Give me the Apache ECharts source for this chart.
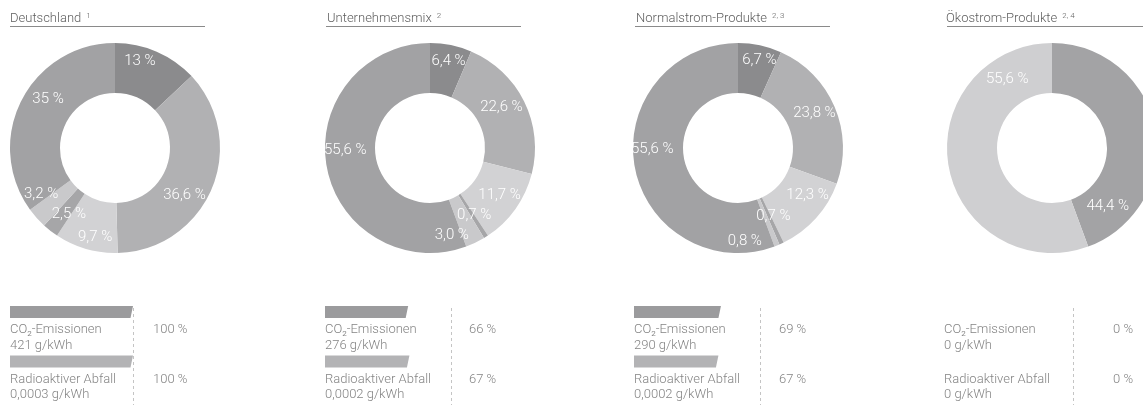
<!DOCTYPE html>
<html>
<head>
<meta charset="utf-8">
<script src="https://cdn.jsdelivr.net/npm/echarts@6/dist/echarts.min.js"></script>
<style>
html, body { margin: 0; padding: 0; background: #fff; }
#chart { width: 1143px; height: 405px; }
</style>
</head>
<body>
<div id="chart"></div>
<script>
// Stromkennzeichnung – Energieträgermix und Umweltauswirkungen
const panelTitles = ['Deutschland', 'Unternehmensmix', 'Normalstrom-Produkte', 'Ökostrom-Produkte']
const panelNotes = ['1', '2', '2, 3', '2, 4']

const mixCategories = ['Kernkraft', 'Kohle', 'Erdgas', 'Sonstige fossile Energieträger', 'Sonstige erneuerbare Energien', 'Erneuerbare Energien (EEG)']
const oekoCategories = ['Erneuerbare Energien (EEG)', 'Sonstige erneuerbare Energien']

const deutschlandMix = [13, 36.6, 9.7, 2.5, 3.2, 35]
const unternehmensMix = [6.4, 22.6, 11.7, 0.7, 3.0, 55.6]
const normalstromMix = [6.7, 23.8, 12.3, 0.7, 0.8, 55.6]
const oekostromMix = [44.4, 55.6]

const impactLabels = ['CO2-Emissionen', 'Radioaktiver Abfall']
const co2Amounts = ['421', '276', '290', '0']
const wasteAmounts = ['0,0003', '0,0002', '0,0002', '0']
const co2Percent = [100, 66, 69, 0]
const wastePercent = [100, 67, 67, 0]

// Farben / Layout
const mixColors = ['#8b8b8d', '#b1b1b3', '#d2d2d4', '#a6a6a8', '#c9c9cb', '#a2a2a4']
const oekoColors = ['#a3a3a5', '#cfcfd1']
const barColors = ['#9b9b9d', '#b3b3b5']
const font = 'Roboto, "Noto Sans", sans-serif'

const pieCenters = [[115, 148], [430, 148], [738, 148], [1052, 148]]
const titleLefts = [10, 327, 636, 946]
const underlines = [[10, 205], [326, 521], [635, 830], [947, 1143]]
const gridLefts = [10, 325, 634, 944]
const gridWidths = [123, 126, 126, 129]
const valueGaps = [20, 18, 19, 40]
// kleine Verschiebungen der Beschriftungen wie in der Vorlage
const labelOffsets = [
  [[-8, -11], [-7, 15], [3, 9], [5, 1], [-12, -9], [7, -11]],
  [[2, -5], [-3, -4], [2, -1], [0, -3], [-14, 12], [-3, -12]],
  [[4, -7], [0, -2], [8, -8], [1, -7], [-24, 16], [-4, -13]],
  [[-26, 73], [37, -83]]
]

const panels = [
  { values: deutschlandMix, names: mixCategories, colors: mixColors, fixed: false },
  { values: unternehmensMix, names: mixCategories, colors: mixColors, fixed: true },
  { values: normalstromMix, names: mixCategories, colors: mixColors, fixed: true },
  { values: oekostromMix, names: oekoCategories, colors: oekoColors, fixed: true }
]

function fmt(v, fixed) {
  const s = fixed ? v.toFixed(1) : String(v)
  return s.replace('.', ',') + ' %'
}

const chart = echarts.init(document.getElementById('chart'))

const pieSeries = panels.map(function(p, i) {
  return {
    type: 'pie',
    center: pieCenters[i],
    radius: [55, 105],
    startAngle: 90,
    silent: true,
    avoidLabelOverlap: false,
    label: {
      position: 'inside',
      color: '#fff',
      fontSize: 15,
      fontWeight: 300,
      fontFamily: font,
      formatter: function(params) {
        return fmt(params.value, p.fixed)
      }
    },
    labelLine: { show: false },
    data: p.values.map(function(v, k) {
      return {
        name: p.names[k],
        value: v,
        itemStyle: { color: p.colors[k] },
        label: { offset: labelOffsets[i][k] }
      }
    })
  }
})

function renderImpact(panelIndex) {
  return function(params, api) {
    const v = api.value(0)
    const row = api.value(1)
    const cs = params.coordSys
    const start = api.coord([0, row])
    const end = api.coord([v, row])
    const band = api.size([0, 1])[1]
    const top = start[1] - band / 2
    const children = []
    if (v > 0) {
      children.push({
        type: 'polygon',
        shape: { points: [[start[0], top], [end[0], top], [end[0] - 2.5, top + 12], [start[0], top + 12]] },
        style: { fill: barColors[row] }
      })
    }
    const label = row === 0 ? 'CO{s|2}-Emissionen' : impactLabels[1]
    const amount = (row === 0 ? co2Amounts[panelIndex] : wasteAmounts[panelIndex]) + ' g/kWh'
    const textStyle = { fill: '#848484', fontSize: 13, fontWeight: 300, fontFamily: font, verticalAlign: 'middle' }
    children.push({
      type: 'text', x: start[0], y: top + 24,
      style: Object.assign({ text: label, rich: { s: { fontSize: 8, fontFamily: font, fill: '#848484', padding: [8, 0, 0, 0] } } }, textStyle)
    })
    children.push({ type: 'text', x: start[0], y: top + 39.5, style: Object.assign({ text: amount }, textStyle) })
    children.push({
      type: 'text', x: cs.x + cs.width + valueGaps[panelIndex], y: top + 24,
      style: Object.assign({ text: api.value(0) + ' %' }, textStyle)
    })
    if (params.dataIndex === 0) {
      const xe = Math.round(cs.x + cs.width) + 0.5
      children.push({
        type: 'line',
        shape: { x1: xe, y1: cs.y + 2, x2: xe, y2: cs.y + cs.height },
        style: { stroke: '#c4c4c4', lineWidth: 1, lineDash: [3, 3] }
      })
    }
    return { type: 'group', children: children }
  }
}

const impactSeries = panels.map(function(p, i) {
  return {
    type: 'custom',
    xAxisIndex: i,
    yAxisIndex: i,
    silent: true,
    renderItem: renderImpact(i),
    encode: { x: 0, y: 1 },
    data: [[co2Percent[i], 0], [wastePercent[i], 1]]
  }
})

chart.setOption({
  animation: false,
  title: panelTitles.map(function(t, i) {
    return {
      text: '{t|' + t + '} {s|' + panelNotes[i] + '}',
      left: titleLefts[i],
      top: 10,
      padding: 0,
      textStyle: {
        fontWeight: 'normal',
        rich: {
          t: { fontSize: 13, fontWeight: 300, fontFamily: font, color: '#5e5e5e', lineHeight: 16 },
          s: { fontSize: 8, fontWeight: 300, fontFamily: font, color: '#5e5e5e', padding: [0, 0, 7, 0] }
        }
      }
    }
  }),
  graphic: underlines.map(function(u) {
    return {
      type: 'line',
      silent: true,
      shape: { x1: u[0], y1: 26.5, x2: u[1], y2: 26.5 },
      style: { stroke: '#8a8a8a', lineWidth: 1 }
    }
  }),
  grid: gridLefts.map(function(l, i) {
    return { left: l, width: gridWidths[i], top: 306, height: 104 }
  }),
  xAxis: gridLefts.map(function(l, i) {
    return { type: 'value', gridIndex: i, min: 0, max: 100, show: false }
  }),
  yAxis: gridLefts.map(function(l, i) {
    return { type: 'category', gridIndex: i, inverse: true, data: impactLabels, show: false }
  }),
  series: pieSeries.concat(impactSeries)
})
</script>
</body>
</html>
